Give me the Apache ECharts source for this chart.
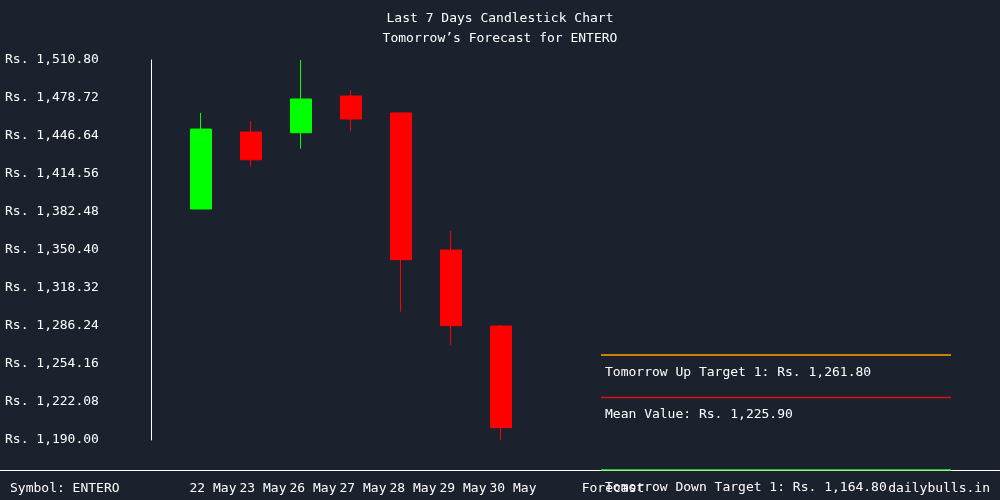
<!DOCTYPE html>
<html>
<head>
<meta charset="utf-8">
<script src="https://cdn.jsdelivr.net/npm/echarts@6/dist/echarts.min.js"></script>
<style>html,body{margin:0;padding:0;background:#1c212e;}#chart{width:1000px;height:500px;}</style>
</head>
<body>
<div id="chart"></div>
<script>
// ---- data ----
const dates = ['22 May', '23 May', '26 May', '27 May', '28 May', '29 May', '30 May'];
const forecastLabel = 'Forecast';
// [open, close, low, high]
const opens  = [1385.0, 1450.0, 1449.4, 1480.4, 1466.1, 1350.4, 1286.2];
const closes = [1452.5, 1426.6, 1477.9, 1461.0, 1342.2, 1286.5, 1200.4];
const lows   = [1385.0, 1420.7, 1435.9, 1451.1, 1298.3, 1270.4, 1190.0];
const highs  = [1466.1, 1459.3, 1510.8, 1485.5, 1466.1, 1366.4, 1287.1];
const yTicks = [1190.00, 1222.08, 1254.16, 1286.24, 1318.32, 1350.40, 1382.48, 1414.56, 1446.64, 1478.72, 1510.80];
const upTarget = 1261.80;
const meanValue = 1225.90;
const downTarget = 1164.80;
const symbolName = 'ENTERO';
const site = 'dailybulls.in';

// ---- build ----
const categories = [''].concat(dates, [''], [forecastLabel], ['', '', '', '', '', '', '']);
const candleData = dates.map((d, i) => [i + 1, opens[i], closes[i], lows[i], highs[i]]);
const fIdx = categories.indexOf(forecastLabel);
const lastIdx = categories.length - 1;
const fmt = v => 'Rs. ' + Number(v).toLocaleString('en-US', {minimumFractionDigits: 2, maximumFractionDigits: 2});
const FONT = 'DejaVu Sans Mono';

function forecastLine(name, value, color) {
  return {
    type: 'line', name: name, clip: false, silent: true,
    symbol: 'circle', symbolSize: 0,
    lineStyle: {color: color, width: 1.4},
    itemStyle: {color: color},
    data: [
      {value: [fIdx, value], label: {
        show: true, position: [4, 11], align: 'left', verticalAlign: 'top',
        color: '#ffffff', fontFamily: FONT, fontSize: 13,
        formatter: () => name + ': ' + fmt(value)
      }},
      {value: [lastIdx, value], label: {show: false}}
    ],
    animation: false, z: 3
  };
}

const titleStyle = {color: '#ffffff', fontFamily: FONT, fontSize: 13, fontWeight: 'normal'};
const chart = echarts.init(document.getElementById('chart'), null, {renderer: 'canvas'});
chart.setOption({
  backgroundColor: '#1c212e',
  animation: false,
  textStyle: {fontFamily: FONT},
  title: [
    {text: 'Last 7 Days Candlestick Chart', left: 'center', top: 12, padding: 0, textStyle: titleStyle},
    {text: 'Tomorrow\u2019s Forecast for ' + symbolName, left: 'center', top: 32, padding: 0, textStyle: titleStyle},
    {text: 'Symbol: ' + symbolName, left: 10, top: 482, padding: 0, textStyle: titleStyle},
    {text: site, right: 10, top: 482, padding: 0, textStyle: titleStyle}
  ],
  graphic: [
    {type: 'line', x: 0, y: 0, shape: {x1: 0, y1: 470.5, x2: 1000, y2: 470.5},
     style: {stroke: '#ffffff', lineWidth: 1}, z: 1}
  ],
  grid: {left: 151, right: 49, top: 60, bottom: 60, containLabel: false},
  xAxis: {
    type: 'category', data: categories, boundaryGap: false,
    axisLine: {show: false}, axisTick: {show: false}, splitLine: {show: false},
    axisLabel: {show: true, interval: 0, color: '#ffffff', fontFamily: FONT, fontSize: 13,
                margin: 42, padding: [0, 0, 0, 24]}
  },
  yAxis: {
    type: 'value', min: 1190, max: 1510.8, scale: true,
    splitLine: {show: false},
    axisLine: {show: true, lineStyle: {color: '#ffffff', width: 1}},
    axisTick: {show: false},
    axisLabel: {show: true, customValues: yTicks, color: '#ffffff', fontFamily: FONT, fontSize: 13,
                align: 'left', margin: 146, padding: [0, 0, 4, 0], formatter: v => fmt(v)}
  },
  series: [
    {
      type: 'candlestick', barWidth: 21,
      encode: {x: 0, y: [1, 2, 3, 4]},
      data: candleData,
      itemStyle: {color: '#00ff00', color0: '#ff0000', borderColor: '#00ff00', borderColor0: '#ff0000', borderWidth: 1},
      z: 2
    },
    forecastLine('Tomorrow Up Target 1', upTarget, '#ffa500'),
    forecastLine('Mean Value', meanValue, '#dd1111'),
    forecastLine('Tomorrow Down Target 1', downTarget, '#33ee33')
  ]
});
</script>
</body>
</html>
